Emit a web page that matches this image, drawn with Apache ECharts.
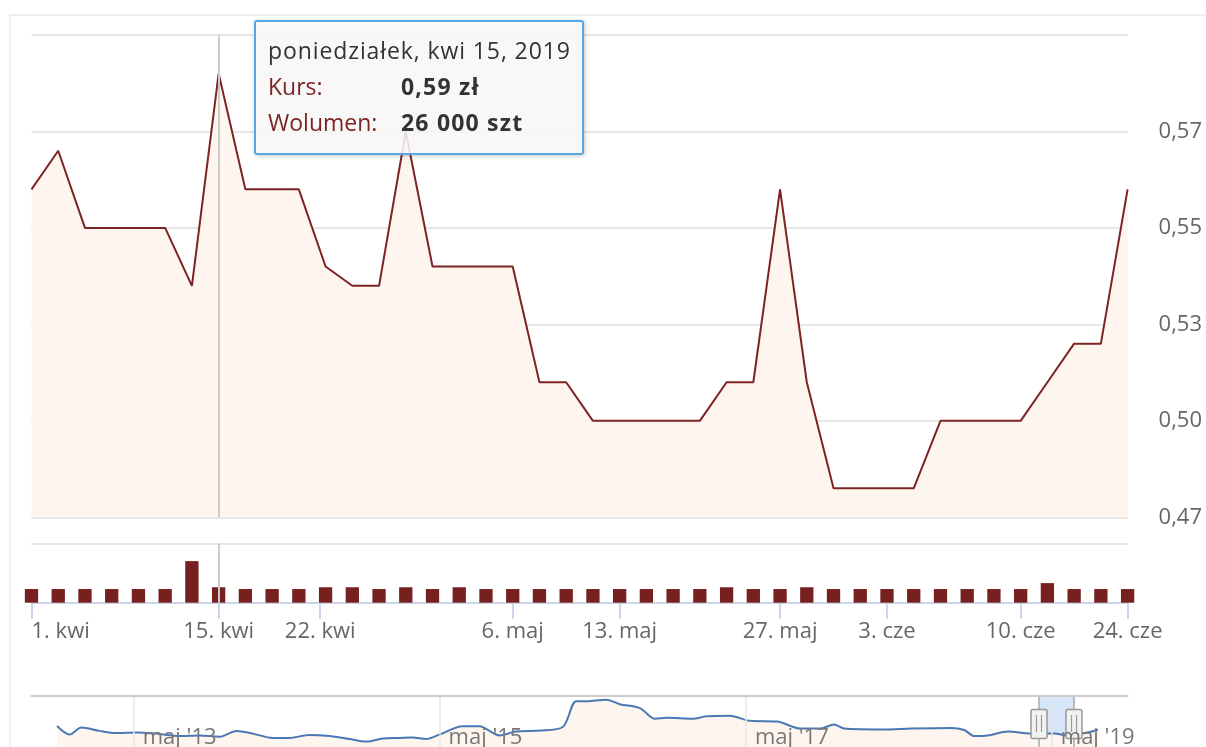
<!DOCTYPE html>
<html>
<head>
<meta charset="utf-8">
<script src="https://cdn.jsdelivr.net/npm/echarts@6/dist/echarts.min.js"></script>
<style>
html,body{margin:0;padding:0;background:#ffffff;overflow:hidden;}
#frame{position:absolute;left:9px;top:14px;width:1300px;height:800px;border:2px solid #efefef;}
#chart{position:absolute;left:0;top:0;width:1206px;height:747px;}
</style>
</head>
<body>
<div id="frame"></div>
<div id="chart"></div>
<script>
// ---------- DATA ----------
const dates = [
  '2019-04-01','2019-04-02','2019-04-03','2019-04-04','2019-04-08','2019-04-10','2019-04-11','2019-04-15',
  '2019-04-16','2019-04-17','2019-04-18',
  '2019-04-23','2019-04-24','2019-04-25','2019-04-26','2019-04-29','2019-04-30','2019-05-02',
  '2019-05-06','2019-05-07','2019-05-08','2019-05-10',
  '2019-05-13','2019-05-14','2019-05-15','2019-05-16','2019-05-20','2019-05-22',
  '2019-05-27','2019-05-28','2019-05-29','2019-05-31',
  '2019-06-03','2019-06-04','2019-06-05','2019-06-06','2019-06-07',
  '2019-06-10','2019-06-12','2019-06-14','2019-06-18',
  '2019-06-24'
];
const prices = [
  0.56, 0.57, 0.55, 0.55, 0.55, 0.55, 0.535, 0.59,
  0.56, 0.56, 0.56,
  0.54, 0.535, 0.535, 0.575, 0.54, 0.54, 0.54,
  0.54, 0.51, 0.51, 0.50,
  0.50, 0.50, 0.50, 0.50, 0.51, 0.51,
  0.56, 0.51, 0.4825, 0.4825,
  0.4825, 0.4825, 0.50, 0.50, 0.50,
  0.50, 0.51, 0.52, 0.52,
  0.56
];
const volumes = [
  23000, 23000, 23000, 23000, 23000, 23000, 70000, 26000,
  23000, 23000, 23000,
  26000, 26000, 23000, 26000, 23000, 26000, 23000,
  23000, 23000, 23000, 23000,
  23000, 23000, 23000, 23000, 26000, 23000,
  23000, 26000, 23000, 23000,
  23000, 23000, 23000, 23000, 23000,
  23000, 33000, 23000, 23000,
  23000
];
const xTickDates  = ['2019-04-01','2019-04-15','2019-04-22','2019-05-06','2019-05-13','2019-05-27','2019-06-03','2019-06-10','2019-06-24'];
const xTickLabels = ['1. kwi','15. kwi','22. kwi','6. maj','13. maj','27. maj','3. cze','10. cze','24. cze'];
const yTickValues = [0.475, 0.5, 0.525, 0.55, 0.575, 0.6];
const yTickLabels = ['0,47', '0,50', '0,53', '0,55', '0,57', ''];

const navDates = ['2012-10-30','2012-11-29','2012-12-27','2013-02-08','2013-03-20','2013-05-07','2013-06-24','2013-08-18','2013-10-05','2013-11-22',
  '2014-01-01','2014-02-09','2014-03-29','2014-05-08','2014-06-24','2014-08-11','2014-09-28','2014-11-07','2014-12-16','2015-01-25',
  '2015-02-26','2015-03-30','2015-05-01','2015-06-25','2015-08-04','2015-09-21','2015-10-31','2015-12-26','2016-02-19','2016-03-22',
  '2016-04-15','2016-06-02','2016-07-04','2016-08-21','2016-09-26','2016-10-24','2016-12-26','2017-01-27','2017-03-24','2017-05-11',
  '2017-07-14','2017-09-08','2017-10-26','2017-11-27','2017-12-21','2018-03-27','2018-05-30','2018-09-03','2018-10-04','2018-10-28',
  '2018-11-29','2019-01-16','2019-03-12','2019-05-07','2019-06-08','2019-08-19'];
const navValues = [0.615,0.522,0.598,0.562,0.538,0.545,0.532,0.505,0.512,0.498,
  0.562,0.532,0.485,0.485,0.518,0.505,0.472,0.445,0.478,0.485,
  0.488,0.472,0.522,0.612,0.612,0.512,0.555,0.565,0.605,0.888,
  0.888,0.905,0.855,0.812,0.695,0.705,0.695,0.722,0.728,0.672,
  0.665,0.588,0.588,0.632,0.588,0.578,0.588,0.595,0.572,0.505,
  0.512,0.555,0.532,0.532,0.512,0.572];
const navRange = ['2012-08-30', '2019-10-29'];
const navTickDates = ['2013-05-01','2015-05-01','2017-05-01','2019-05-01'];
const navYRange = [0.385, 0.945];
const selection = ['2019-04-01', '2019-06-24'];

const hoverDate = '2019-04-15';
const monthShort = ['sty','lut','mar','kwi','maj','cze','lip','sie','wrz','paź','lis','gru'];
const dayNames = ['niedziela','poniedziałek','wtorek','środa','czwartek','piątek','sobota'];

// ---------- HELPERS ----------
function ts(s){ const p = s.split('-').map(Number); return new Date(p[0], p[1]-1, p[2]).getTime(); }
function datePos(d){
  const t = ts(d);
  for (let i = 0; i < dates.length; i++){
    const ti = ts(dates[i]);
    if (ti === t) return i;
    if (i < dates.length - 1){
      const tn = ts(dates[i+1]);
      if (t > ti && t < tn) return i + (t - ti) / (tn - ti);
    }
  }
  return null;
}
const xTickPos = xTickDates.map(datePos);
const navTickTs = navTickDates.map(ts);
const hoverIdx = dates.indexOf(hoverDate);
function fmtNum(v){ return String(v).replace(/\B(?=(\d{3})+(?!\d))/g, ' '); }

const FONT = '"Open Sans", "Noto Sans", sans-serif';
const LINE_COLOR = '#7c2323';
const FILL_COLOR = '#fdf5ee';
const GRID_L = 31.5, GRID_R = 78.4;

const chart = echarts.init(document.getElementById('chart'), null, {renderer: 'canvas'});

const option = {
  animation: false,
  backgroundColor: 'transparent',
  textStyle: {fontFamily: FONT},
  grid: [
    {left: GRID_L, right: GRID_R, top: 35, height: 482.3},
    {left: GRID_L, right: GRID_R, top: 543.3, height: 59.4},
    {left: GRID_L, right: GRID_R, top: 696, height: 56}
  ],
  xAxis: [
    {gridIndex: 0, type: 'value', min: 0, max: dates.length - 1,
      axisLine: {show: false}, axisTick: {show: false}, axisLabel: {show: false}, splitLine: {show: false}},
    {gridIndex: 1, type: 'value', min: 0, max: dates.length - 1,
      axisLine: {show: true, onZero: false, lineStyle: {color: '#ccd6eb', width: 2}},
      axisTick: {show: true, length: 16, customValues: xTickPos, lineStyle: {color: '#ccd6eb', width: 2}},
      splitLine: {show: false},
      axisLabel: {
        customValues: xTickPos, margin: 18, color: '#666666', fontSize: 22, fontFamily: FONT,
        alignMinLabel: 'left',
        formatter: function(v){ const k = xTickPos.findIndex(p => Math.abs(p - v) < 1e-6); return k >= 0 ? xTickLabels[k] : ''; }
      }
    },
    {gridIndex: 2, type: 'value', position: 'top', min: ts(navRange[0]), max: ts(navRange[1]), z: 20,
      axisLine: {show: true, onZero: false, lineStyle: {color: '#cccccc', width: 2}},
      axisTick: {show: false, customValues: navTickTs},
      splitLine: {show: true, lineStyle: {color: '#e6e6e6', width: 1.5}},
      axisLabel: {
        customValues: navTickTs, inside: true, margin: 31, align: 'left', padding: [0,0,0,9],
        color: '#777777', fontSize: 22, fontFamily: FONT,
        formatter: function(v){ const d = new Date(v); return monthShort[d.getMonth()] + " '" + String(d.getFullYear()).slice(2); }
      }
    }
  ],
  yAxis: [
    {gridIndex: 0, type: 'value', position: 'right', min: yTickValues[0], max: yTickValues[yTickValues.length-1], interval: 0.025,
      axisLine: {show: false}, axisTick: {show: false},
      splitLine: {show: true, lineStyle: {color: '#e6e6e6', width: 2}},
      axisLabel: {
        margin: 31, color: '#666666', fontSize: 22, fontFamily: FONT, verticalAlign: 'middle', padding: [0,0,22,0],
        formatter: function(v){ const k = yTickValues.findIndex(p => Math.abs(p - v) < 1e-9); return k >= 0 ? yTickLabels[k] : ''; }
      }
    },
    {gridIndex: 1, type: 'value', min: 0, max: 100000, interval: 100000,
      axisLine: {show: false}, axisTick: {show: false}, axisLabel: {show: false},
      splitLine: {show: true, lineStyle: {color: '#e6e6e6', width: 2}}
    },
    {gridIndex: 2, type: 'value', min: navYRange[0], max: navYRange[1], show: false, splitLine: {show: false}}
  ],
  tooltip: {
    trigger: 'axis', triggerOn: 'none', alwaysShowContent: true, showDelay: 0, transitionDuration: 0,
    axisPointer: {type: 'none'},
    position: [254, 20],
    backgroundColor: 'rgba(247,247,247,0.88)', borderColor: '#55a9e0', borderWidth: 2, padding: 0,
    extraCssText: 'border-radius:3px;box-shadow:1px 1px 4px rgba(0,0,0,0.22);',
    formatter: function(){
      const i = hoverIdx;
      const d = new Date(ts(dates[i]));
      const header = dayNames[d.getDay()] + ', ' + monthShort[d.getMonth()] + ' ' + d.getDate() + ', ' + d.getFullYear();
      const price = prices[i].toFixed(2).replace('.', ',') + ' zł';
      const vol = fmtNum(volumes[i]) + ' szt';
      const lab = 'display:inline-block;width:133px;color:' + LINE_COLOR + ';';
      const val = 'font-weight:bold;letter-spacing:1.2px;color:#333333;';
      return '<div style="width:326px;height:131px;box-sizing:border-box;padding:10px 0 0 12px;line-height:36px;font-size:23px;font-family:' + FONT.replace(/"/g, "'") + ';color:#333333;">' +
        '<div style="letter-spacing:0.9px;">' + header + '</div>' +
        '<div><span style="' + lab + '">Kurs:</span><span style="' + val + '">' + price + '</span></div>' +
        '<div><span style="' + lab + '">Wolumen:</span><span style="' + val + '">' + vol + '</span></div>' +
        '</div>';
    }
  },
  series: [
    {
      name: 'Kurs', type: 'line', xAxisIndex: 0, yAxisIndex: 0,
      data: prices.map((v, i) => [i, v]),
      showSymbol: false, symbol: 'none',
      color: LINE_COLOR,
      lineStyle: {color: LINE_COLOR, width: 2},
      areaStyle: {color: FILL_COLOR, opacity: 1, origin: 'start'},
      emphasis: {disabled: true},
      markLine: {silent: true, symbol: ['none','none'], label: {show: false},
        lineStyle: {color: '#cccccc', width: 2, type: 'solid'}, data: [{xAxis: hoverIdx}]}
    },
    {
      name: 'Wolumen', type: 'bar', xAxisIndex: 1, yAxisIndex: 1,
      data: volumes.map((v, i) => [i, v]),
      barWidth: 13.3, itemStyle: {color: '#772020'},
      emphasis: {disabled: true},
      markLine: {silent: true, symbol: ['none','none'], label: {show: false},
        lineStyle: {color: '#cccccc', width: 2, type: 'solid'}, data: [{xAxis: hoverIdx}]}
    },
    {
      name: 'Nawigator', type: 'line', xAxisIndex: 2, yAxisIndex: 2,
      data: navDates.map((d, i) => [ts(d), navValues[i]]),
      showSymbol: false, symbol: 'none', smooth: 0.3,
      lineStyle: {color: '#4a78b4', width: 2},
      areaStyle: {color: FILL_COLOR, opacity: 1, origin: 'start'},
      emphasis: {disabled: true},
      markArea: {silent: true, itemStyle: {color: 'rgba(102,160,225,0.27)'},
        data: [[{xAxis: ts(selection[0])}, {xAxis: ts(selection[1])}]]}
    },
    {
      name: 'Uchwyty', type: 'custom', xAxisIndex: 2, yAxisIndex: 2, silent: true, z: 10,
      data: selection.map(d => [ts(d), navYRange[1]]),
      renderItem: function(params, api){
        const p = api.coord([api.value(0), api.value(1)]);
        const cs = params.coordSys;
        const cx = Math.round(p[0]);
        const top = cs.y;
        return {type: 'group', children: [
          {type: 'line', shape: {x1: cx, y1: top, x2: cx, y2: top + cs.height}, style: {stroke: '#aaaaaa', lineWidth: 1.5}},
          {type: 'rect', shape: {x: cx - 8, y: top + 13.5, width: 16, height: 29, r: 2}, style: {fill: '#f2f2f2', stroke: '#999999', lineWidth: 1.5}},
          {type: 'line', shape: {x1: cx - 2.5, y1: top + 19, x2: cx - 2.5, y2: top + 36}, style: {stroke: '#999999', lineWidth: 1.2}},
          {type: 'line', shape: {x1: cx + 2.5, y1: top + 19, x2: cx + 2.5, y2: top + 36}, style: {stroke: '#999999', lineWidth: 1.2}}
        ]};
      }
    }
  ]
};
chart.setOption(option);
chart.dispatchAction({type: 'showTip', seriesIndex: 0, dataIndex: hoverIdx});
</script>
</body>
</html>
